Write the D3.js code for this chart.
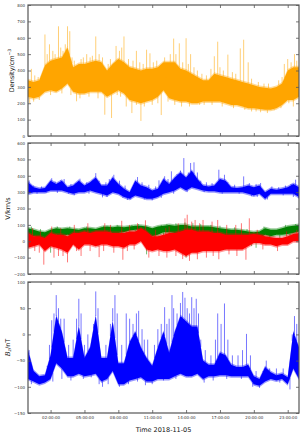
<!DOCTYPE html>
<html>
<head>
<meta charset="utf-8">
<script src="https://cdn.jsdelivr.net/npm/d3@7"></script>
<style>
body { margin: 0; background: #fff; }
text { font-family: "DejaVu Sans", sans-serif; }
</style>
</head>
<body>
<script>
// time grid, hours of 2018-11-05 (30 min steps)
const hours = [0,0.5,1,1.5,2,2.5,3,3.5,4,4.5,5,5.5,6,6.5,7,7.5,8,8.5,9,9.5,10,10.5,11,11.5,
  12,12.5,13,13.5,14,14.5,15,15.5,16,16.5,17,17.5,18,18.5,19,19.5,20,20.5,21,21.5,22,22.5,23,23.5,24];
const xTickHours = [2,5,8,11,14,17,20,23];

// density envelope (cm^-3), low / high per half hour
const densLo = [240,230,240,270,280,270,290,320,270,260,260,270,270,270,240,260,280,260,220,210,200,210,220,240,
  280,230,220,210,210,200,200,210,210,210,210,200,190,190,180,170,170,165,160,160,170,190,220,220,240];
const densHi = [340,330,340,430,460,470,480,540,420,440,440,450,460,450,400,440,470,450,420,410,400,410,410,420,
  450,450,450,410,400,380,360,340,340,380,370,360,350,340,330,320,310,300,295,290,300,320,400,420,420];
// [hour, value] excursions outside the dense band
const densSpikes = [[0.3,410],[0.15,200],[1.5,620],[1.9,560],[2.7,670],[3.3,560],[3.5,670],[3.7,640],[4.3,212],
  [5.2,500],[6.0,608],[6.8,130],[7.4,110],[7.8,550],[8.5,608],[8.7,180],[9.2,140],[9.6,520],[10.0,92],[10.5,527],
  [10.8,505],[11.8,128],[12.9,595],[13.4,566],[14.0,597],[14.4,500],[16.5,487],[16.8,576],[17.7,497],[18.8,535],
  [19.1,588],[19.5,450],[21.8,157],[22.7,440],[23.0,470],[23.6,500],[12.2,265],[15.2,190],[20.2,150],
  [0.6,370],[0.9,360],[1.2,350],[1.7,500],[2.2,520],[2.4,500],[2.9,540],[3.1,520],[3.9,480],[4.1,460],[4.7,470],
  [4.9,480],[5.5,480],[5.7,490],[6.3,500],[6.6,480],[7.1,440],[7.3,470],[8.1,520],[8.3,540],[8.9,470],[9.3,460],
  [9.9,450],[10.2,440],[11.1,450],[11.4,460],[12.1,480],[12.6,500],[13.1,500],[13.7,450],[14.2,440],[14.7,420],
  [15.0,400],[15.4,380],[15.8,370],[16.2,410],[17.0,420],[17.3,400],[18.1,390],[18.4,380],[19.8,350],[20.4,330],
  [20.9,320],[21.3,320],[22.2,340],[22.5,360],[23.3,450],[23.8,460],
  [0.5,210],[1.0,220],[2.0,250],[3.0,260],[3.8,250],[4.6,230],[5.4,240],[6.2,230],[7.9,250],[8.2,240],[9.6,190],
  [10.3,180],[11.0,190],[11.5,200],[12.4,210],[13.0,190],[13.6,180],[14.3,180],[15.6,190],[16.3,190],[17.2,180],
  [18.2,170],[19.2,160],[19.8,150],[20.6,145],[21.2,140],[22.4,170],[23.1,200],[23.5,180]];

// velocity components (km/s)
const vBlueLo = [290,300,300,300,310,310,310,300,290,300,300,310,300,290,280,300,290,270,260,280,270,260,260,270,
  290,300,310,330,310,330,320,310,305,305,300,300,300,300,300,290,280,290,260,290,290,290,290,290,270];
const vBlueHi = [360,330,320,325,370,350,370,330,340,370,340,360,390,340,340,390,350,320,300,370,340,330,310,320,
  380,350,390,420,390,430,380,340,335,340,380,370,330,325,330,340,330,340,300,320,315,320,330,350,330];
const vBlueSpikes = [[0.1,372],[2.1,385],[2.9,372],[4.6,382],[6.0,416],[6.6,268],[7.6,406],[9.7,392],[11.6,372],
  [12.1,397],[12.7,427],[13.5,432],[13.8,508],[14.4,478],[14.7,482],[15.0,420],[16.9,437],[17.4,406],[19.1,396],
  [20.6,356],[21.0,258],[23.7,376],[23.95,262],[8.8,252],
  [0.5,340],[1.2,335],[1.8,345],[2.4,365],[3.2,380],[3.8,350],[4.2,355],[5.2,360],[5.7,375],[6.3,370],[6.9,360],
  [7.2,380],[8.1,370],[8.6,340],[9.3,330],[10.1,360],[10.7,345],[11.3,335],[12.4,380],[13.2,410],[14.2,420],
  [15.3,370],[15.8,360],[16.3,355],[17.7,360],[18.3,345],[19.6,355],[20.2,350],[21.6,335],[22.2,330],[22.8,340],
  [23.3,350],
  [0.8,290],[1.6,295],[2.6,295],[3.6,290],[4.1,280],[5.4,290],[7.0,270],[8.4,265],[9.1,255],[10.3,255],[11.0,250],
  [11.8,265],[12.9,290],[14.1,300],[15.6,300],[17.2,290],[18.7,290],[19.8,275],[20.3,270],[21.2,255],[22.6,280],
  [23.5,270]];

const vGreenLo = [20,30,20,20,30,40,30,40,30,30,40,40,30,50,55,50,50,55,65,70,70,50,30,40,
  55,55,50,40,30,20,30,20,30,30,30,30,30,20,20,10,10,20,40,30,40,40,45,50,60];
const vGreenHi = [80,70,60,55,70,80,75,80,75,70,80,80,75,85,90,85,90,85,90,95,95,90,80,90,
  95,100,95,100,100,90,90,90,90,85,80,75,70,70,65,60,55,60,80,70,70,80,90,95,100];
const vGreenSpikes = [[2.0,-70],[4.3,-40],[6.2,-30],[10.5,-80],[11.2,-50],[14.0,-100],[15.0,-60],[17.5,-50],
  [19.0,-40],[20.2,-40],[3.3,-60],
  [0.3,90],[1.1,75],[2.6,90],[3.7,90],[5.2,90],[6.7,95],[7.9,100],[9.2,100],[9.8,105],[11.8,100],[12.3,105],
  [13.1,110],[13.9,115],[14.6,110],[15.3,105],[16.2,100],[17.0,95],[18.3,85],[19.4,75],[20.9,90],[22.8,100],
  [23.7,105],
  [0.7,0],[1.7,-10],[3.0,0],[4.8,-10],[5.7,-20],[7.2,10],[8.7,20],[9.5,30],[12.0,10],[13.3,-20],[14.4,-40],
  [15.7,-30],[16.5,-40],[18.6,-20],[19.8,-30],[21.4,0],[22.3,10],[23.2,20]];

const vRedLo = [-40,-30,-20,-60,-30,-40,-50,-70,-20,-50,-20,-20,-30,-20,-20,-30,-30,-40,-20,-20,0,-50,-60,-50,
  -60,-60,-50,-70,-90,-70,-70,-60,-60,-60,-60,-50,-50,-50,-50,-30,-10,-10,-20,-20,-30,-20,-20,0,0];
const vRedHi = [50,30,30,20,50,40,40,30,50,50,60,50,60,60,60,50,50,50,60,60,80,60,30,30,
  40,50,50,60,70,70,60,60,60,50,50,40,40,40,40,40,45,40,30,25,20,20,30,45,50];
const vRedSpikes = [[1.4,-143],[2.3,-100],[3.5,-129],[4.7,-90],[6.3,-97],[8.3,125],[8.4,-113],[10.4,128],
  [10.7,-100],[12.5,90],[13.7,-109],[14.1,162],[14.8,130],[15.5,130],[16.8,130],[16.9,-110],[19.3,-113],[19.6,140],
  [0.4,80],[1.1,60],[2.1,90],[2.9,80],[4.1,100],[5.3,110],[6.8,110],[7.3,100],[9.0,100],[9.7,110],[11.3,70],
  [12.2,80],[13.3,110],[13.9,140],[14.5,120],[15.2,110],[16.3,120],[17.6,100],[18.4,100],[18.9,110],[20.3,70],
  [22.9,60],[23.8,70],
  [0.6,-60],[1.0,-70],[2.7,-90],[3.1,-90],[4.3,-60],[5.5,-60],[6.7,-60],[7.6,-70],[8.8,-60],[9.4,-50],[11.6,-90],
  [12.3,-100],[13.1,-90],[14.3,-120],[15.0,-110],[15.8,-100],[16.4,-90],[17.8,-80],[18.5,-90],[20.8,-50],[22.1,-60]];

// Bz (nT)
const bzLo = [-85,-90,-95,-92,-85,-55,-65,-80,-80,-75,-80,-78,-75,-90,-85,-70,-95,-95,-88,-85,-82,-90,-90,-85,
  -85,-85,-80,-75,-80,-80,-75,-85,-80,-80,-78,-78,-80,-80,-80,-80,-95,-98,-90,-85,-88,-85,-95,-65,-85];
const bzHi = [-30,-70,-80,-78,-40,35,5,-45,-45,15,-45,-25,35,-45,-45,25,-55,-55,-15,5,-25,-45,-60,-25,
  5,-35,5,35,25,15,15,-50,-58,-58,-35,-40,-58,-62,-62,-58,-80,-85,-62,-72,-78,-75,-82,5,-25];
const bzSpikes = [[2.1,27],[2.5,75],[3.2,30],[4.5,68],[6.0,82],[6.6,-100],[7.7,75],[8.7,40],[9.8,45],[11.8,20],
  [12.1,52],[12.75,75],[13.7,81],[13.9,70],[14.5,71],[14.9,68],[16.8,40],[17.4,59],[19.35,1],[21.1,-50],
  [23.6,35],[23.2,-105],[5.3,0],[10.3,-10],
  [0.1,-30],[1.7,-60],[1.9,-20],[2.3,40],[2.7,50],[2.9,30],[3.6,-20],[4.0,-10],[4.3,30],[4.7,40],[5.0,-20],
  [5.8,20],[6.2,50],[6.9,-20],[7.3,20],[7.5,50],[7.9,40],[8.3,-20],[9.0,30],[9.3,20],[9.6,40],[10.1,10],[10.6,-10],
  [11.2,-20],[11.5,10],[12.3,20],[12.5,30],[12.9,50],[13.2,40],[13.5,60],[14.1,50],[14.3,40],[14.7,50],[15.1,40],
  [15.3,-10],[15.7,-30],[16.2,-40],[16.6,-10],[17.1,20],[17.7,-10],[18.1,-40],[18.6,-40],[19.0,-30],[19.7,-40],
  [20.2,-70],[20.8,-70],[21.4,-65],[22.0,-65],[22.6,-65],[23.4,0],[23.8,20],
  [0.3,-95],[2.2,-90],[3.0,-85],[3.8,-88],[4.9,-85],[5.6,-82],[6.3,-95],[7.1,-95],[8.1,-100],[8.9,-95],[9.7,-90],
  [10.4,-97],[11.0,-95],[12.0,-88],[13.1,-85],[14.2,-80],[15.6,-92],[16.4,-88],[17.6,-85],[18.9,-85],[19.9,-100],
  [20.5,-102],[22.3,-92]];

const W = 303, H = 437, L = 28, R = 299;
const day = Date.UTC(2018, 10, 5);
const toDate = h => new Date(day + h * 3600e3);

const svg = d3.select("body").append("svg")
  .attr("width", W).attr("height", H);

const x = d3.scaleUtc().domain([toDate(0), toDate(24)]).range([L, R]);

const panels = [
  { top: 5, bottom: 136, domain: [0, 800], ticks: d3.range(0, 801, 100), labelX: 12, label: "density",
    series: [{ lo: densLo, hi: densHi, spikes: densSpikes, color: "#ffa500" }] },
  { top: 143, bottom: 274, domain: [-200, 600], ticks: d3.range(-200, 601, 100), labelX: 8, label: "v",
    series: [
      { lo: vBlueLo, hi: vBlueHi, spikes: vBlueSpikes, color: "#0000ff" },
      { lo: vGreenLo, hi: vGreenHi, spikes: vGreenSpikes, color: "#008000" },
      { lo: vRedLo, hi: vRedHi, spikes: vRedSpikes, color: "#ff0000" }
    ] },
  { top: 282, bottom: 413, domain: [-150, 100], ticks: d3.range(-150, 101, 50), labelX: 8, label: "bz",
    series: [{ lo: bzLo, hi: bzHi, spikes: bzSpikes, color: "#0000ff" }] }
];

const frameColor = "#555";
const fmt = d3.format("d");

panels.forEach((p, i) => {
  const y = d3.scaleLinear().domain(p.domain).range([p.bottom, p.top]);
  const g = svg.append("g");
  const clipId = "clip" + i;
  svg.append("clipPath").attr("id", clipId).append("rect")
    .attr("x", L).attr("y", p.top).attr("width", R - L).attr("height", p.bottom - p.top);
  const plot = g.append("g").attr("clip-path", "url(#" + clipId + ")");

  p.series.forEach(s => {
    const pts = hours.map((h, k) => ({ h: h, lo: s.lo[k], hi: s.hi[k] }));
    // band edge at any hour, for spike roots
    const edge = (arr, h) => {
      const k = Math.min(hours.length - 2, Math.floor(h / 0.5));
      const t = (h - hours[k]) / 0.5;
      return arr[k] + (arr[k + 1] - arr[k]) * t;
    };
    const spikes = s.spikes.map(d => {
      const hi = edge(s.hi, d[0]), lo = edge(s.lo, d[0]);
      return { h: d[0], v: d[1], root: d[1] > hi ? hi : (d[1] < lo ? lo : (hi + lo) / 2) };
    });
    // soft fringe
    plot.append("path").datum(pts)
      .attr("fill", s.color).attr("opacity", 0.4)
      .attr("d", d3.area().x(d => x(toDate(d.h))).y0(d => y(d.lo) + 1.5).y1(d => y(d.hi) - 1.5));
    plot.append("path").datum(pts)
      .attr("fill", s.color)
      .attr("d", d3.area().x(d => x(toDate(d.h))).y0(d => y(d.lo)).y1(d => y(d.hi)));
    plot.selectAll(null).data(spikes).enter().append("line")
      .attr("x1", d => x(toDate(d.h))).attr("x2", d => x(toDate(d.h)))
      .attr("y1", d => y(d.root)).attr("y2", d => y(d.v))
      .attr("stroke", s.color).attr("stroke-width", 0.9).attr("stroke-opacity", 0.6);
  });

  // axes, ticks pointing inward on all sides
  const styleAxis = sel => {
    sel.select(".domain").remove();
    sel.selectAll(".tick line").attr("stroke", frameColor).attr("stroke-width", 0.8);
    sel.selectAll("text").attr("fill", "#333").style("font-size", "4px");
  };
  g.append("g").attr("transform", `translate(${L},0)`)
    .call(d3.axisLeft(y).tickValues(p.ticks).tickFormat(fmt).tickSizeInner(-3).tickSizeOuter(0).tickPadding(3))
    .call(styleAxis);
  g.append("g").attr("transform", `translate(${R},0)`)
    .call(d3.axisRight(y).tickValues(p.ticks).tickFormat("").tickSizeInner(-3).tickSizeOuter(0))
    .call(styleAxis);
  const xt = xTickHours.map(toDate);
  g.append("g").attr("transform", `translate(0,${p.top})`)
    .call(d3.axisTop(x).tickValues(xt).tickFormat("").tickSizeInner(-3).tickSizeOuter(0))
    .call(styleAxis);
  g.append("g").attr("transform", `translate(0,${p.bottom})`)
    .call(d3.axisBottom(x).tickValues(xt)
      .tickFormat(i === panels.length - 1 ? d3.utcFormat("%H:%M:%S") : "")
      .tickSizeInner(-3).tickSizeOuter(0).tickPadding(3))
    .call(styleAxis);

  g.append("rect")
    .attr("x", L).attr("y", p.top).attr("width", R - L).attr("height", p.bottom - p.top)
    .attr("fill", "none").attr("stroke", frameColor).attr("stroke-width", 1.2);

  // y label
  const cy = (p.top + p.bottom) / 2;
  const lab = g.append("text")
    .attr("transform", `translate(${p.labelX},${cy}) rotate(-90)`)
    .attr("text-anchor", "middle").attr("dominant-baseline", "middle")
    .style("font-size", "6.5px").attr("fill", "#111");
  if (p.label === "density") {
    lab.append("tspan").text("Density/cm");
    lab.append("tspan").attr("dy", -2.2).style("font-size", "4.5px").text("−3");
  } else if (p.label === "v") {
    lab.text("V/km/s");
  } else {
    lab.append("tspan").style("font-style", "italic").style("font-family", "DejaVu Serif").text("B");
    lab.append("tspan").attr("dy", 1.5).style("font-size", "4.5px").style("font-style", "italic").text("z");
    lab.append("tspan").attr("dy", -1.5).text("/nT");
  }
});

svg.append("text")
  .attr("x", (L + R) / 2).attr("y", 432)
  .attr("text-anchor", "middle")
  .style("font-size", "6.5px").attr("fill", "#111")
  .text("Time 2018-11-05");
</script>
</body>
</html>
